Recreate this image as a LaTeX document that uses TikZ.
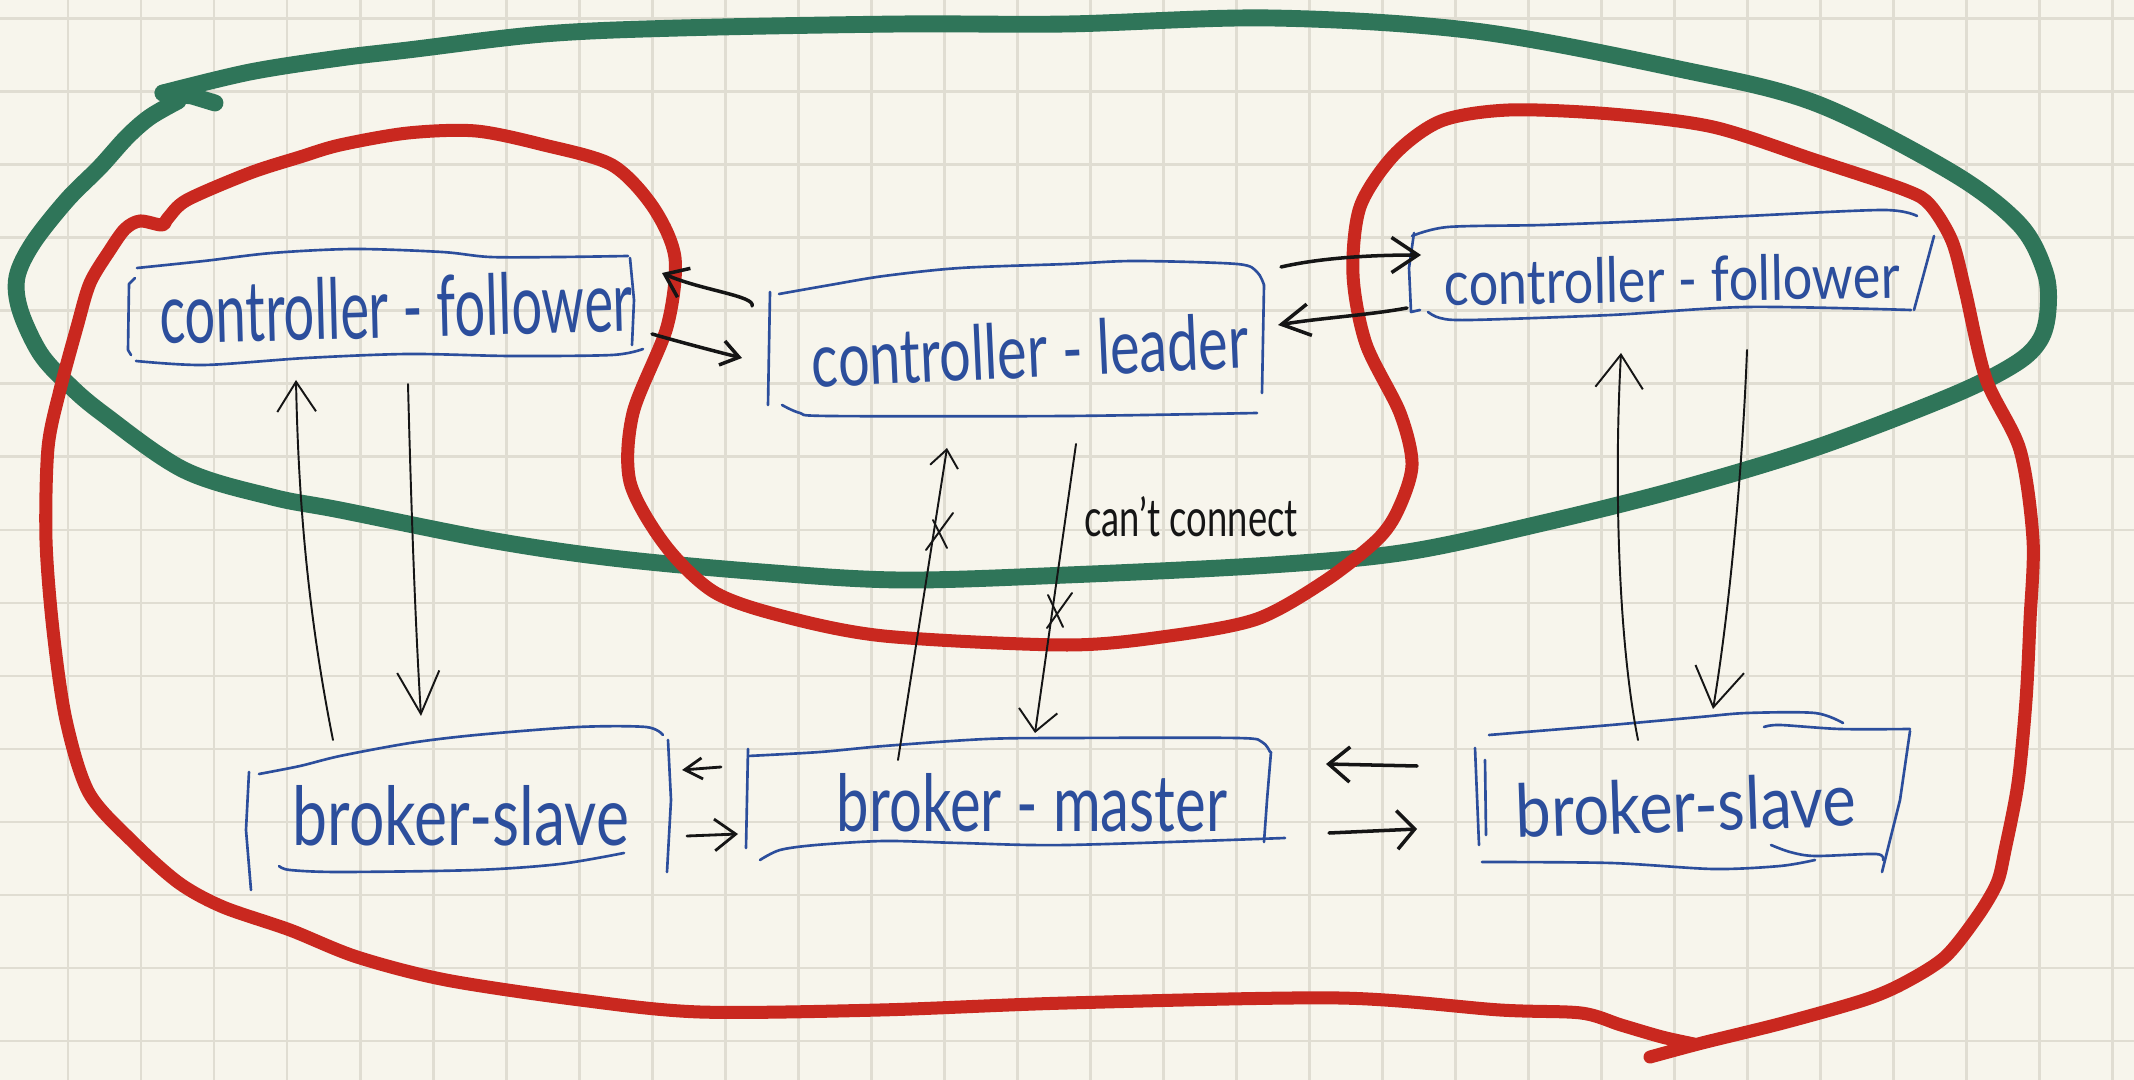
\documentclass[tikz,border=0pt]{standalone}
\usepackage{fontspec}
\setmainfont{Lato}
\usepackage{graphicx}
\usetikzlibrary{arrows.meta}
\definecolor{paper}{HTML}{F7F5EC}
\definecolor{gridc}{HTML}{E0DDD2}
\definecolor{loopgreen}{HTML}{2F7559}
\definecolor{loopred}{HTML}{C9281F}
\definecolor{inkblue}{HTML}{2C4E9C}
\definecolor{inkblack}{HTML}{151515}
\newcommand{\hwtext}[3]{\resizebox{#1mm}{#2mm}{#3}}
\begin{document}
\begin{tikzpicture}[x=0.01cm,y=-0.01cm,
  gridline/.style={draw=gridc,line width=0.85pt},
  greenloop/.style={draw=loopgreen,line width=4.8pt,line cap=round,line join=round},
  redloop/.style={draw=loopred,line width=3.7pt,line cap=round,line join=round},
  boxline/.style={draw=inkblue,line width=0.75pt,line cap=round,line join=round},
  boxtext/.style={inner sep=0pt,text=inkblue},
  notetext/.style={inner sep=0pt,text=inkblack},
  thinarrow/.style={draw=inkblack,line width=0.55pt,line cap=round,line join=round},
  thickarrow/.style={draw=inkblack,line width=1pt,line cap=round,line join=round},
]
% paper
\fill[paper] (0,0) rectangle (2134,1080);
\useasboundingbox (0,0) rectangle (2134,1080);
\foreach \i in {1,...,29} \draw[gridline] ({-5+73*\i},0) -- ({-5+73*\i},1080);
\foreach \j in {0,...,14} \draw[gridline] (0,{19+73*\j}) -- (2134,{19+73*\j});

% green loop
\draw[greenloop] plot[smooth,tension=0.55] coordinates {
 (163,93) (250,72) (340,58) (408,50) (544,34) (680,28) (900,24) (1067,24) (1271,18)
 (1475,31) (1679,69) (1815,103) (1951,172) (2019,224) (2045,272) (2048,310) (2040,340)
 (2015,364) (1951,396) (1815,448) (1679,489) (1543,523) (1407,552) (1271,565) (1067,575)
 (900,580) (762,572) (612,558) (490,540) (340,510) (272,497) (184,470) (102,413) (67,383)
 (40,353) (20,310) (17,277) (33,243) (67,200) (100,167) (127,137) (150,117) (178,101)};
\draw[greenloop] (163,93) -- (192,96) -- (215,103);

% red loop
\draw[redloop] plot[smooth,tension=0.5] coordinates {
 (1650,1057) (1702,1043) (1783,1023) (1864,1000) (1904,983) (1945,957) (1977,917)
 (1997,883) (2005,850) (2018,783) (2026,700) (2030,620) (2033,540) (2020,450) (1986,379)
 (1965,290) (1952,241) (1930,205)
 (1905,190) (1815,160) (1713,127) (1611,114) (1509,110) (1441,121) (1394,155) (1360,207)
 (1353,275) (1366,344) (1400,413) (1412,465) (1398,510) (1377,540) (1325,581) (1257,619)
 (1169,636) (1067,645) (884,636) (782,616) (714,592) (665,545) (630,482) (633,413)
 (667,327) (675,258) (653,207) (612,165) (544,145) (476,131) (408,133) (340,145)
 (300,157) (250,173) (187,200) (168,218) (162,225) (140,221) (125,229) (110,250) (90,283)
 (77,327) (60,390) (48,448) (46,540) (53,630) (66,720) (89,793) (134,843)
 (179,883) (223,907) (290,930) (357,957) (446,980) (580,1000) (700,1012) (880,1010)
 (1067,1003) (1339,998) (1500,1010) (1581,1013) (1621,1025) (1662,1037) (1694,1044)};

% box 1: controller-follower (left)
\draw[boxline] (135,278) -- (129,284) -- (128,350) -- (131,355);
\draw[boxline] plot[smooth] coordinates {(137,268) (204,261) (272,253) (354,249) (442,252) (490,257) (560,257) (628,256)};
\draw[boxline] (630,258) -- (634,300) -- (632,345);
\draw[boxline] plot[smooth] coordinates {(136,361) (204,365) (306,358) (408,354) (510,356) (612,355) (643,349)};
% box 2: controller-leader
\draw[boxline] (770,292) -- (768,405);
\draw[boxline] plot[smooth] coordinates {(779,294) (830,285) (884,276) (960,268) (1067,264) (1135,261) (1237,264) (1257,272) (1264,285)};
\draw[boxline] (1264,285) -- (1262,393);
\draw[boxline] plot[smooth] coordinates {(782,405) (800,413) (830,416) (1067,416) (1257,413)};
% box 3: controller-follower (right)
\draw[boxline] (1414,233) -- (1409,268) -- (1411,312) -- (1420,310);
\draw[boxline] plot[smooth] coordinates {(1412,236) (1448,227) (1543,225) (1647,221) (1747,216) (1883,210) (1917,216)};
\draw[boxline] (1934,236) -- (1914,310);
\draw[boxline] plot[smooth] coordinates {(1428,312) (1440,318) (1470,320) (1611,315) (1747,307) (1911,310)};
% box 4: broker-slave (left)
\draw[boxline] (249,772) -- (246,830) -- (251,890);
\draw[boxline] plot[smooth] coordinates {(259,774) (300,766) (340,756) (410,743) (476,735) (578,727) (646,727) (663,735)};
\draw[boxline] (668,740) -- (671,800) -- (667,872);
\draw[boxline] plot[smooth] coordinates {(279,866) (290,870) (340,872) (476,870) (560,864) (624,853)};
% box 5: broker-master
\draw[boxline] (748,749) -- (746,848);
\draw[boxline] plot[smooth] coordinates {(748,756) (820,752) (884,746) (986,739) (1067,738) (1237,738) (1262,742) (1270,752)};
\draw[boxline] (1271,752) -- (1267,800) -- (1264,842);
\draw[boxline] plot[smooth] coordinates {(760,860) (780,850) (816,845) (884,841) (960,843) (1067,845) (1285,838)};
% box 6: broker-slave (right)
\draw[boxline] (1475,748) -- (1479,845);
\draw[boxline] (1485,760) -- (1486,835);
\draw[boxline] plot[smooth] coordinates {(1489,735) (1550,730) (1611,725) (1700,717) (1747,713) (1815,713) (1843,723)};
\draw[boxline] plot[smooth] coordinates {(1764,727) (1780,725) (1840,729) (1910,729)};
\draw[boxline] (1910,731) -- (1900,800) -- (1882,872);
\draw[boxline] plot[smooth] coordinates {(1482,862) (1611,863) (1713,869) (1780,866) (1815,860)};
\draw[boxline] plot[smooth] coordinates {(1771,845) (1790,852) (1815,856) (1876,854) (1883,860)};

% texts
\node[boxtext,rotate=1.5] (cfl) at (396,307) {\hwtext{47.3}{6.2}{controller - follower}};
\node[boxtext,rotate=2.6] (cld) at (1030,350) {\hwtext{43.7}{5.6}{controller - leader}};
\node[boxtext,rotate=1] (cfr) at (1672,279) {\hwtext{45.5}{4.6}{controller - follower}};
\node[boxtext] (bsl) at (461,816) {\hwtext{33.6}{6.0}{broker-slave}};
\node[boxtext] (bm) at (1032,803) {\hwtext{39.0}{5.8}{broker - master}};
\node[boxtext,rotate=2] (bsr) at (1686,805) {\hwtext{34.0}{5.4}{broker-slave}};
\node[notetext] (cc) at (1191,517) {\hwtext{21.3}{4.0}{can't connect}};

% connector end points
\coordinate (a1s) at (752,306); \coordinate (a1e) at (662,273);
\coordinate (a2s) at (652,334); \coordinate (a2e) at (742,358);
\coordinate (a3s) at (1281,267); \coordinate (a3e) at (1421,255);
\coordinate (a4s) at (1407,308); \coordinate (a4e) at (1278,325);
\coordinate (a5s) at (333,740); \coordinate (a5e) at (296,380);
\coordinate (a6s) at (408,384); \coordinate (a6e) at (421,716);
\coordinate (a7s) at (898,760); \coordinate (a7e) at (947,448);
\coordinate (a8s) at (1076,444); \coordinate (a8e) at (1035,733);
\coordinate (a9s) at (1417,766); \coordinate (a9e) at (1326,764);
\coordinate (a10s) at (1329,833); \coordinate (a10e) at (1417,829);
\coordinate (a11s) at (721,767); \coordinate (a11e) at (682,770);
\coordinate (a12s) at (687,836); \coordinate (a12e) at (738,834);
\coordinate (a13s) at (1638,740); \coordinate (a13e) at (1621,353);
\coordinate (a14s) at (1747,350); \coordinate (a14e) at (1713,709);

% connectors
\draw[thickarrow,-{Straight Barb[length=6pt,width=9pt]}] (a1s) .. controls (756,296) and (700,290) .. (a1e);
\draw[thickarrow,-{Straight Barb[length=5pt,width=7pt]}] (a2s) .. controls (680,342) and (710,350) .. (a2e);
\draw[thickarrow,-{Straight Barb[length=7.5pt,width=10pt]}] (a3s) .. controls (1320,258) and (1370,255) .. (a3e);
\draw[thickarrow,-{Straight Barb[length=8pt,width=9pt]}] (a4s) .. controls (1370,315) and (1320,318) .. (a4e);
\draw[thinarrow,-{Straight Barb[length=8.5pt,width=11pt]}] (a5s) .. controls (305,600) and (298,480) .. (a5e);
\draw[thinarrow,-{Straight Barb[length=12pt,width=12pt]}] (a6s) .. controls (411,500) and (415,620) .. (a6e);
\draw[thinarrow,-{Straight Barb[length=5pt,width=8pt]}] (a7s) -- (a7e);
\draw[thinarrow,-{Straight Barb[length=6pt,width=11pt]}] (a8s) -- (a8e);
\draw[thickarrow,-{Straight Barb[length=6pt,width=10pt]}] (a9s) -- (a9e);
\draw[thickarrow,-{Straight Barb[length=5pt,width=11pt]}] (a10s) -- (a10e);
\draw[thinarrow,line width=0.8pt,-{Straight Barb[length=5pt,width=6pt]}] (a11s) -- (a11e);
\draw[thinarrow,line width=0.8pt,-{Straight Barb[length=6pt,width=9pt]}] (a12s) -- (a12e);
\draw[thinarrow,-{Straight Barb[length=9.5pt,width=13.5pt]}] (a13s) .. controls (1618,640) and (1614,480) .. (a13e);
\draw[thinarrow,-{Straight Barb[length=11pt,width=14pt]}] (a14s) .. controls (1742,480) and (1728,620) .. (a14e);
% cross marks
\draw[thinarrow] (926,550) -- (953,513);
\draw[thinarrow] (933,520) -- (947,548);
\draw[thinarrow] (1047,628) -- (1072,593);
\draw[thinarrow] (1048,595) -- (1063,627);
\end{tikzpicture}
\end{document}
